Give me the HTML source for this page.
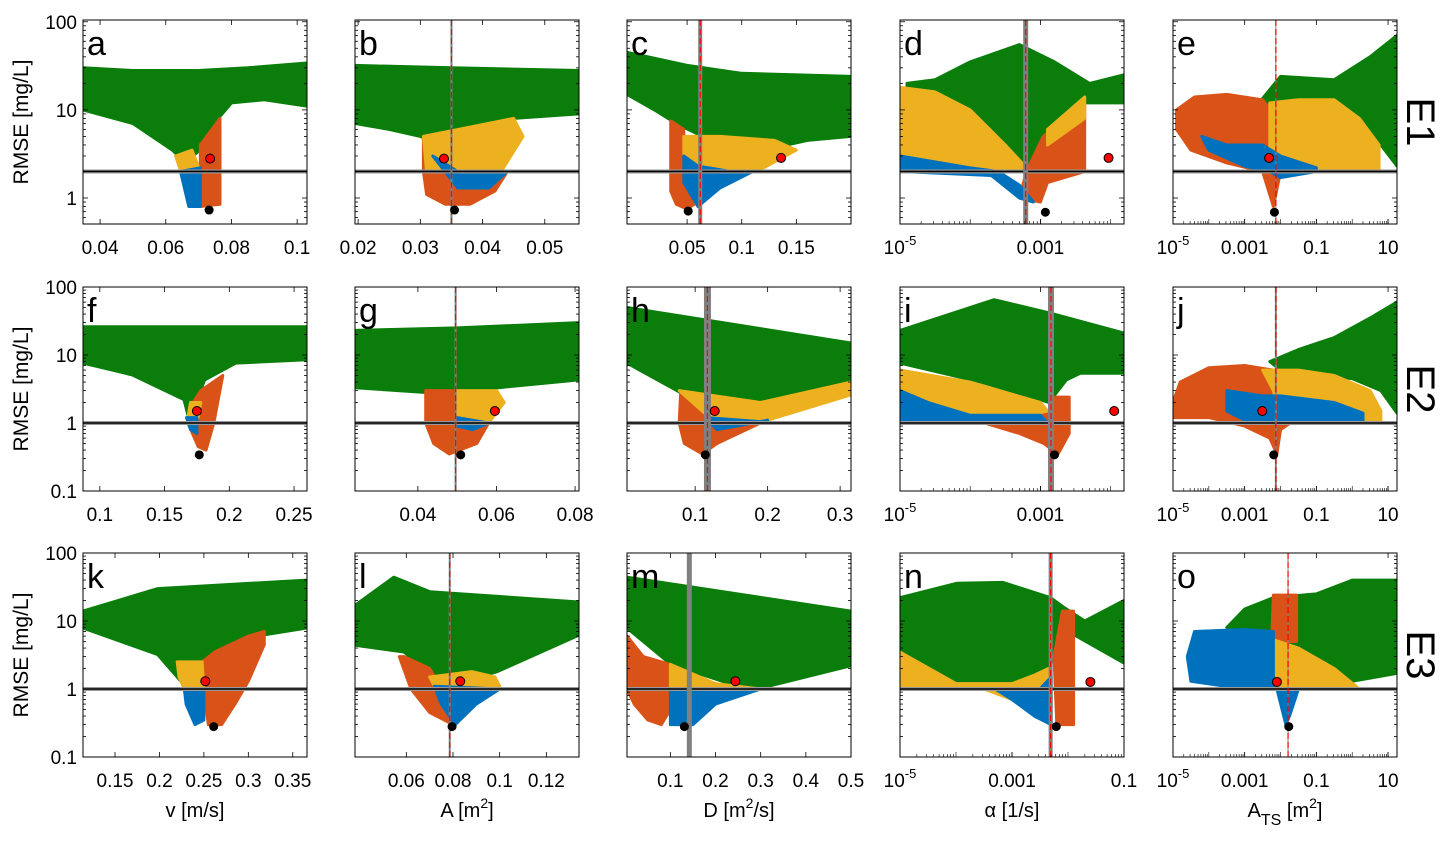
<!DOCTYPE html>
<html><head><meta charset="utf-8"><style>
html,body{margin:0;padding:0;background:#fff;}
svg{display:block;font-family:"Liberation Sans",sans-serif;}
</style></head><body>
<svg id="chart" width="1451" height="852" viewBox="0 0 1451 852"></svg>
<script>
// ---- data (x in axis units; log panels store log10 exponent) ----
const panelLetters = ["a","b","c","d","e","f","g","h","i","j","k","l","m","n","o"];
const xDomains = [[0.0348,0.103],[0.0195,0.0555],[-0.005,0.2],[-5,-1.81],[-5,1.25],
 [0.087,0.26],[0.024,0.081],[0.006,0.315],[-5,-1.81],[-5,1.25],
 [0.114,0.366],[0.038,0.134],[0.004,0.5],[-5,-1],[-5,1.25]];
const xTickValues = [[0.04,0.06,0.08,0.1],[0.02,0.03,0.04,0.05],[0.05,0.1,0.15],[-5,-3],[-5,-3,-1,1],
 [0.1,0.15,0.2,0.25],[0.04,0.06,0.08],[0.1,0.2,0.3],[-5,-3],[-5,-3,-1,1],
 [0.15,0.2,0.25,0.3,0.35],[0.06,0.08,0.1,0.12],[0.1,0.2,0.3,0.4,0.5],[-5,-3,-1],[-5,-3,-1,1]];
const xTickLabels = [["0.04","0.06","0.08","0.1"],["0.02","0.03","0.04","0.05"],["0.05","0.1","0.15"],["10^-5","0.001"],["10^-5","0.001","0.1","10"],
 ["0.1","0.15","0.2","0.25"],["0.04","0.06","0.08"],["0.1","0.2","0.3"],["10^-5","0.001"],["10^-5","0.001","0.1","10"],
 ["0.15","0.2","0.25","0.3","0.35"],["0.06","0.08","0.1","0.12"],["0.1","0.2","0.3","0.4","0.5"],["10^-5","0.001","0.1"],["10^-5","0.001","0.1","10"]];
const logPanels = [false,false,false,true,true,false,false,false,true,true,false,false,false,true,true];
const yLogDomains = [[-0.295,2.02],[-1,2],[-1,2]];
const yTickValues = [[100,10,1],[100,10,1,0.1],[100,10,1,0.1]];
const yTickLabels = [["100","10","1"],["100","10","1","0.1"],["100","10","1","0.1"]];
const thresholds = [2,1,1];
const rowNames = ["E1","E2","E3"];

const greenShapes = [
 [[[0.0348,30],[0.05,28],[0.07,28],[0.085,30],[0.103,34],[0.103,11],[0.09,13],[0.08,12],[0.076,8],[0.072,4],[0.066,2.5],[0.062,3.5],[0.05,7],[0.0348,10]]],
 [[[0.0195,32],[0.035,30],[0.0555,28],[0.0555,9],[0.045,8],[0.04,6],[0.036,4],[0.033,4],[0.03,5],[0.025,6],[0.0195,7]]],
 [[[-0.005,45],[0.05,32],[0.1,26],[0.2,24],[0.2,5],[0.16,4.5],[0.12,3.5],[0.08,4],[0.04,7],[0.02,10],[-0.005,15]]],
 [[[-4.9,20],[-4.5,22],[-4,35],[-3.3,55],[-2.8,35],[-2.3,20],[-1.81,25],[-1.81,12],[-2.37,12],[-2.9,6],[-3.2,2.3],[-3.5,4],[-4,10],[-4.5,16],[-4.9,18]]],
 [[[-2.6,12],[-2,24],[-0.5,22],[0.5,40],[1.25,70],[1.25,2.3],[0.8,4],[0.2,8],[-0.5,13],[-1.5,13],[-2.5,10]]],
 [[[0.087,26],[0.2,26],[0.26,26],[0.26,8.5],[0.205,7.6],[0.181,4.3],[0.169,1.1],[0.165,2.2],[0.125,5.1],[0.087,7.6]]],
 [[[0.024,23],[0.05,25],[0.081,30],[0.081,4.3],[0.0605,3.3],[0.0426,2.8],[0.024,3.3]]],
 [[[0.006,50],[0.315,15],[0.315,4.3],[0.19,1.97],[0.081,2.75],[0.006,7.6]]],
 [[[-5,23],[-3.66,65],[-2.85,41],[-1.81,21],[-1.81,5.4],[-2.43,5.4],[-2.63,4.3],[-2.88,2.0],[-3.81,3.9],[-5,7.6]]],
 [[[-2.3,8],[-1.5,12],[-0.5,18],[0.5,35],[1.25,60],[1.25,1.4],[0.8,3],[0,4.5],[-1,5],[-2,6]]],
 [[[0.114,14],[0.198,30],[0.366,40],[0.366,7.9],[0.316,6.2],[0.263,3.2],[0.228,1.14],[0.198,3.2],[0.114,7.9]]],
 [[[0.038,17],[0.0546,44],[0.07,27],[0.134,19],[0.134,6.2],[0.099,1.8],[0.0769,1.03],[0.059,3.5],[0.038,4.4]]],
 [[[0.004,44],[0.5,14],[0.5,2.2],[0.3,1.03],[0.241,1.14],[0.101,2.3],[0.004,7.9]]],
 [[[-5,22],[-3.98,36],[-3.16,37],[-2.31,22],[-2.08,16],[-1.7,10],[-1,20],[-1,2.4],[-1.94,6.6],[-2.3,2.4],[-2.49,1.36],[-3.85,1.1],[-5,1.25]]],
 [[[-3.5,8],[-3,15],[-2.2,22],[-1,25],[0,40],[1.25,40],[1.25,1.7],[0,1.3],[-1.7,1.5],[-2.2,3],[-3,7]]]
];
const orangeShapes = [
 [[[0.0705,4],[0.0765,8],[0.0765,0.85],[0.0705,0.8]]],
 [[[0.0305,5],[0.0325,3],[0.034,1.8],[0.039,1.8],[0.044,2],[0.042,1.2],[0.038,0.85],[0.034,0.85],[0.031,1.1],[0.0305,2]]],
 [[[0.035,7.5],[0.047,6],[0.047,2],[0.07,2],[0.065,1.0],[0.05,0.75],[0.04,0.85],[0.035,1.2]]],
 [[[-2.96,5],[-2.37,12],[-2.37,2],[-2.9,1.5],[-3.0,0.9],[-3.3,1.0],[-3.2,2]]],
 [[[-4.9,10],[-4.4,14],[-3.5,15],[-2.5,13],[-2.1,8],[-2.0,2],[-2.2,0.8],[-2.5,2],[-3.5,2.5],[-4.5,3.5],[-4.9,6]]],
 [[[0.178,3],[0.195,5],[0.188,1],[0.182,0.4],[0.176,0.45],[0.168,1],[0.172,2]]],
 [[[0.042,3],[0.05,3],[0.05,1.1],[0.058,1],[0.055,0.5],[0.048,0.35],[0.044,0.5],[0.042,1]]],
 [[[0.08,2.7],[0.115,1.3],[0.19,1.0],[0.13,0.5],[0.11,0.35],[0.085,0.5],[0.078,1]]],
 [[[-3.8,1.1],[-3,1.3],[-2.83,1.6],[-2.8,2.4],[-2.59,2.4],[-2.59,0.7],[-2.75,0.35],[-2.95,0.5],[-3.3,0.7],[-3.8,1.0]]],
 [[[-5,2],[-4.8,4],[-4,6.5],[-3,7],[-2.2,6],[-2.0,2.5],[-1.5,1.2],[-2,0.8],[-2.1,0.35],[-2.3,0.6],[-3,0.9],[-4,1.2],[-5,1.2]]],
 [[[0.248,2.5],[0.262,3.5],[0.3,6],[0.318,7],[0.318,4.5],[0.3,1.3],[0.285,0.6],[0.27,0.3],[0.255,0.3],[0.25,1]]],
 [[[0.057,3],[0.059,3],[0.07,2],[0.075,1.0],[0.08,0.4],[0.08,0.3],[0.07,0.45],[0.062,1]]],
 [[[0.004,6],[0.04,3],[0.1,2.3],[0.1,0.5],[0.08,0.3],[0.05,0.35],[0.02,0.6],[0.004,1]]],
 [[[-2.25,3],[-2.1,14],[-1.9,14],[-1.9,0.3],[-2.2,0.3]]],
 [[[-2.25,5],[-2.2,24],[-1.55,24],[-1.55,5]]]
];
const yellowShapes = [
 [[[0.063,3],[0.068,3.5],[0.0705,2],[0.065,1.8]]],
 [[[0.0305,5],[0.045,8],[0.0465,5],[0.043,2],[0.031,2]]],
 [[[0.047,5],[0.08,5],[0.13,4.5],[0.15,3.5],[0.12,2.2],[0.1,2],[0.06,2.5],[0.047,3]]],
 [[[-5,18],[-4.5,16],[-4.0,10],[-3.5,4],[-3.2,2.2],[-3.6,2],[-5,2]],[[-2.9,6],[-2.37,14],[-2.37,8],[-2.9,4]]],
 [[[-2.3,12],[-1.5,13],[-0.5,13],[0.2,8],[0.75,4],[0.75,2],[-2.3,2]]],
 [[[0.17,2],[0.178,2],[0.176,1.2],[0.168,1.2]]],
 [[[0.05,3],[0.06,3],[0.062,2],[0.058,1],[0.05,1.2]]],
 [[[0.078,3],[0.19,2],[0.315,4],[0.315,2.6],[0.2,1.1],[0.12,1.2]]],
 [[[-5,6],[-4,4],[-3,2],[-2.9,1.5],[-3.5,1.1],[-5,1.5]]],
 [[[-2.5,6],[-1.5,6],[-0.5,5],[0.5,3],[0.8,1.5],[0.8,1.0],[-2,1.0],[-2.2,3]]],
 [[[0.22,2.5],[0.248,2.5],[0.25,1],[0.228,1],[0.222,1.5]]],
 [[[0.07,1.5],[0.088,1.8],[0.098,1.5],[0.1,1.1],[0.072,1.1]]],
 [[[0.1,2.3],[0.2,1.2],[0.3,1.0],[0.1,1.0]]],
 [[[-5,3.5],[-4,1.2],[-3,1.2],[-2.6,1.6],[-2.35,2],[-2.35,0.35],[-2.6,0.45],[-3,0.7],[-3.5,1.0],[-5,1.0]]],
 [[[-3.8,6],[-2.5,6],[-1.5,4],[-0.5,2],[0.2,1.0],[-2,1],[-3.5,1.3],[-4,3]]]
];
const blueShapes = [
 [[[0.0645,2],[0.0705,2.2],[0.0705,0.8],[0.067,0.8]]],
 [[[0.032,3],[0.036,2],[0.044,2],[0.041,1.3],[0.036,1.3]]],
 [[[0.047,3],[0.06,2.3],[0.09,2],[0.11,2],[0.08,1.3],[0.06,0.8],[0.047,1.5]]],
 [[[-5,3],[-4,2.2],[-3.6,2],[-3.3,1.4],[-3.1,0.9],[-3.3,1.0],[-3.7,1.8],[-5,2]]],
 [[[-4.2,5],[-3.5,4],[-2.5,4],[-2,3],[-1,2.2],[-1,2],[-2,1.7],[-2.3,2],[-3,2.3],[-4,3.5]]],
 [[[0.167,1.2],[0.175,1.2],[0.175,0.7],[0.17,0.8]]],
 [[[0.05,1.2],[0.058,1],[0.054,0.8],[0.05,0.9]]],
 [[[0.115,1.2],[0.19,1.05],[0.2,1.1],[0.13,0.8]]],
 [[[-5,3],[-4.6,2],[-4,1.3],[-3,1.3],[-2.9,1.0],[-5,1.0]]],
 [[[-3.5,3],[-2.5,2.5],[-2,2.5],[-0.5,2],[0.3,1.4],[0.3,1.0],[-2,1.0],[-3,1.1],[-3.5,1.5]]],
 [[[0.228,1],[0.25,1],[0.25,0.35],[0.24,0.3],[0.23,0.6]]],
 [[[0.072,1.1],[0.1,1.0],[0.09,0.6],[0.081,0.3],[0.075,0.6]]],
 [[[0.1,1.0],[0.3,1.0],[0.2,0.6],[0.15,0.3],[0.1,0.3]]],
 [[[-3.3,1],[-2.5,1],[-2.3,1.5],[-2.3,0.3],[-2.6,0.4],[-3,0.7]]],
 [[[-4.6,3],[-4.4,7],[-3,7.5],[-2.2,7],[-2.2,1.0],[-3,1.0],[-4.5,1.3]],[[-2.1,1.0],[-1.5,1.0],[-1.75,0.4],[-1.85,0.3]]]
];
const bestX = [0.0735,0.0338,0.136,-2.03,-2.32,0.175,0.0596,0.127,-1.95,-2.51,0.2516,0.0831,0.244,-1.6,-2.1];
const bestY = [2.8,2.8,2.85,2.85,2.85,1.5,1.5,1.5,1.5,1.5,1.3,1.3,1.3,1.27,1.27];
const minX = [0.0732,0.0355,0.051,-2.93,-2.17,0.1768,0.0509,0.114,-2.8,-2.19,0.261,0.0796,0.131,-2.21,-1.77];
const minY = [0.73,0.73,0.71,0.69,0.69,0.34,0.34,0.34,0.34,0.34,0.28,0.28,0.28,0.28,0.28];
const refX = [null,0.035,0.062,-3.21,-2.13,null,0.0496,0.117,-2.85,-2.13,null,0.0786,0.142,-2.31,-1.79];
// style only
const refGrayW = [0,2,4,5,1,0,2,7,6,2,0,2,5,4,1];
const refRed = [false,true,true,true,true,false,true,true,true,true,false,true,false,true,true];

const NS="http://www.w3.org/2000/svg";
const svg=document.getElementById('chart');
const lefts=[83,355,627,900,1173], tops=[20,287,553], PW=224, PH=204;
function mk(tag,attrs,parent){const e=document.createElementNS(NS,tag);for(const k in attrs)e.setAttribute(k,attrs[k]);(parent||svg).appendChild(e);return e;}

const defs=mk('defs',{});
for(let i=0;i<15;i++){
 const col=i%5,row=Math.floor(i/5);
 const L=lefts[col],T=tops[row];
 const xd=xDomains[i], yd=yLogDomains[row];
 const sx=v=>L+(v-xd[0])/(xd[1]-xd[0])*PW;
 const sy=v=>T+PH-(Math.log10(v)-yd[0])/(yd[1]-yd[0])*PH;
 const cp=mk('clipPath',{id:'cp'+i},defs);
 mk('rect',{x:L,y:T,width:PW,height:PH},cp);
 const g=mk('g',{});
 
 
 const plot=mk('g',{'clip-path':'url(#cp'+i+')'},g);
 const drawShapes=(shapes,color,name)=>{
  shapes[i].forEach(poly=>{
   const p=mk('polygon',{points:poly.map(q=>sx(q[0]).toFixed(1)+','+sy(q[1]).toFixed(1)).join(' '),fill:color,stroke:color,'stroke-width':3,'stroke-linejoin':'round'},plot);
   
   
  });
 };
 drawShapes(greenShapes,'#0a7d0a','green-scatter-cloud');
 drawShapes(orangeShapes,'#d95319','orange-scatter-cloud');
 drawShapes(yellowShapes,'#edb120','yellow-scatter-cloud');
 drawShapes(blueShapes,'#0072bd','blue-scatter-cloud');
 const tyy=sy(thresholds[row]);
 mk('line',{x1:L,x2:L+PW,y1:tyy,y2:tyy,stroke:'#999','stroke-width':4},plot);
 const th=mk('line',{x1:L,x2:L+PW,y1:tyy,y2:tyy,stroke:'#000','stroke-width':1.6},plot);
 
 
 if(refX[i]!==null){
  const x=sx(refX[i]);
  const gl=mk('line',{x1:x,x2:x,y1:T,y2:T+PH,stroke:'#808080','stroke-width':refGrayW[i]},plot);
  
  
  if(refRed[i]){
   const rl=mk('line',{x1:x,x2:x,y1:T,y2:T+PH,stroke:'#ff0000','stroke-width':1.2,'stroke-dasharray':'6,3'},plot);
   
   
  }
 }
 const bp=mk('circle',{cx:sx(bestX[i]),cy:sy(bestY[i]),r:4.5,fill:'#ff0000',stroke:'#000','stroke-width':1},plot);
 
 
 const mp=mk('circle',{cx:sx(minX[i]),cy:sy(minY[i]),r:4.5,fill:'#000'},plot);
 
 
 const fr=mk('rect',{x:L,y:T,width:PW,height:PH,fill:'none',stroke:'#000','stroke-width':1},g);
 
 
 for(let d=-2;d<3;d++)for(let m=1;m<10;m++){
  const v=m*Math.pow(10,d), lv=Math.log10(v);
  if(lv<yd[0]||lv>yd[1])continue;
  const y=sy(v), len=m===1?5:3;
  mk('line',{x1:L,x2:L+len,y1:y,y2:y,stroke:'#000','stroke-width':0.8},g);
  mk('line',{x1:L+PW,x2:L+PW-len,y1:y,y2:y,stroke:'#000','stroke-width':0.8},g);
 }
 if(col===0){
  yTickValues[row].forEach((v,k)=>{
   const t=mk('text',{x:L-6,y:sy(v)+7,'text-anchor':'end','font-size':19,fill:'#000'},g);
   t.textContent=yTickLabels[row][k];
   
   
  });
 }
 xTickValues[i].forEach((v,k)=>{
  const x=sx(v);
  mk('line',{x1:x,x2:x,y1:T+PH,y2:T+PH-5,stroke:'#000','stroke-width':0.8},g);
  mk('line',{x1:x,x2:x,y1:T,y2:T+5,stroke:'#000','stroke-width':0.8},g);
  const lab=xTickLabels[i][k];
  const t=mk('text',{x:x,y:T+PH+30,'text-anchor':'middle','font-size':19,fill:'#000'},g);
  
  
  if(lab.startsWith('10^')){
   t.textContent='10';
   const s=mk('tspan',{'font-size':13,dy:-9},t);
   s.textContent=lab.slice(3);
  } else t.textContent=lab;
 });
 if(logPanels[i]){
  for(let d=Math.ceil(xd[0]);d<=xd[1];d++)for(let m=1;m<10;m++){
   const lv=d+Math.log10(m); if(lv>xd[1])continue;
   const x=sx(lv);
   mk('line',{x1:x,x2:x,y1:T+PH,y2:T+PH-(m===1?5:3),stroke:'#000','stroke-width':0.6},g);
  }
 }
 const pl=mk('text',{x:L+4,y:T+35,'font-size':34,fill:'#000'},g);
 pl.textContent=panelLetters[i];
 
 
}
for(let r=0;r<3;r++){
 const cy=tops[r]+PH/2;
 const yt=mk('text',{x:0,y:0,transform:`translate(28,${cy}) rotate(-90)`,'text-anchor':'middle','font-size':21,fill:'#000'});
 yt.textContent='RMSE [mg/L]';
 
 
 const rn=mk('text',{x:0,y:0,transform:`translate(1407,${cy}) rotate(90)`,'text-anchor':'middle','font-size':40,fill:'#000'});
 rn.textContent=rowNames[r];
 
 
}
const xt=[["v [m/s]"],["A [m","2","]"],["D [m","2","/s]"],["α [1/s]"],["A","TS"," [m","2","]"]];
xt.forEach((parts,c)=>{
 const t=mk('text',{x:lefts[c]+PW/2,y:817,'text-anchor':'middle','font-size':20,fill:'#000'});
 
 
 if(c===4){
  const a=mk('tspan',{},t);a.textContent='A';
  const b=mk('tspan',{dy:8,'font-size':16},t);b.textContent='TS';
  const d=mk('tspan',{dy:-8},t);d.textContent=' [m';
  const e=mk('tspan',{dy:-9,'font-size':14},t);e.textContent='2';
  const f=mk('tspan',{dy:9},t);f.textContent=']';
 } else if(parts.length===3){
  const a=mk('tspan',{},t);a.textContent=parts[0];
  const b=mk('tspan',{dy:-9,'font-size':14},t);b.textContent=parts[1];
  const d=mk('tspan',{dy:9},t);d.textContent=parts[2];
 } else t.textContent=parts[0];
});
</script>
</body></html>
